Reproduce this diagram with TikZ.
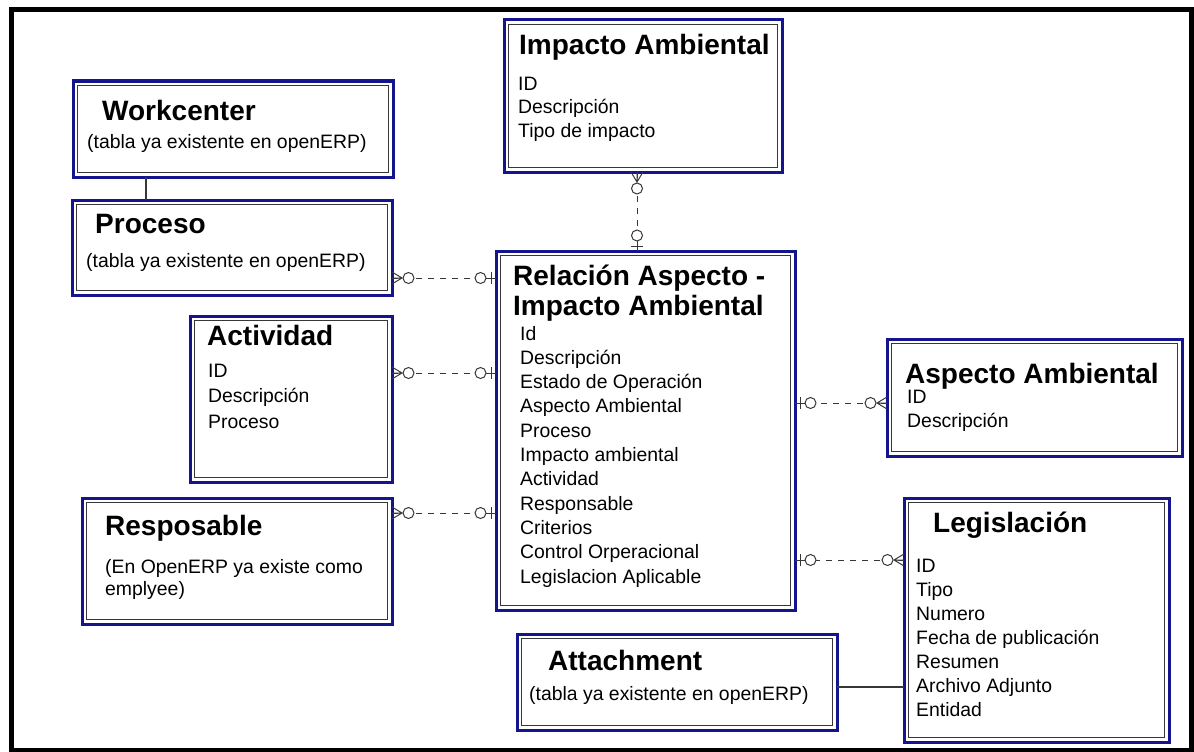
\documentclass[tikz,border=0pt]{standalone}
\usepackage{fontspec}
\setmainfont{Liberation Sans}
\definecolor{erblue}{RGB}{20, 20, 140}
\definecolor{ergray}{RGB}{55, 55, 55}
\usetikzlibrary{calc}
\tikzset{
	entity/.style={rectangle, draw=erblue, line width=3pt, fill=white, inner sep=0pt, outer sep=0pt, anchor=north west,
		path picture={\draw[ergray, line width=1.5pt] ([shift={(4.5pt,-4.5pt)}]path picture bounding box.north west) rectangle ([shift={(-4.5pt,4.5pt)}]path picture bounding box.south east);}},
	title/.style={anchor=base west, inner sep=0pt, align=left, font=\fontsize{28}{30}\selectfont\bfseries},
	attr/.style={anchor=base west, inner sep=0pt, align=left, font=\fontsize{19.4}{#1}\selectfont},
	attr/.default=24,
	frame/.style={draw=black, line width=4.5pt},
	link/.style={draw=ergray, line width=1pt, dash pattern=on 6pt off 6pt},
	plain/.style={draw=ergray, line width=1.2pt},
	many/.pic={\draw[ergray, line width=1pt, solid] (0,-6) -- (10,0) -- (0,6) (0,0) -- (10,0);
		\draw[ergray, line width=1pt, solid, fill=white] (16.5,0) circle (5.5pt);},
	one/.pic={\draw[ergray, line width=1pt, solid] (-11,0) -- (0,0) (-5,-6) -- (-5,6);
		\draw[ergray, line width=1pt, solid, fill=white] (-15.5,0) circle (5.5pt);},
}
\begin{document}
\begin{tikzpicture}[x=1pt, y=-1pt]
	\useasboundingbox (0,0) rectangle (1194,752);
	\draw[frame] (11.5,9.5) rectangle (1191.5,750);
	\node[entity, minimum width=320pt, minimum height=96pt] (wc) at (73,81) {};
	\node[entity, minimum width=320pt, minimum height=95pt] (proc) at (72,200) {};
	\node[entity, minimum width=278pt, minimum height=152pt] (impacto) at (504,20) {};
	\node[entity, minimum width=299pt, minimum height=359pt] (relacion) at (496,251) {};
	\node[entity, minimum width=202pt, minimum height=166pt] (activ) at (190,316) {};
	\node[entity, minimum width=310pt, minimum height=126pt] (resp) at (82,498) {};
	\node[entity, minimum width=295pt, minimum height=117pt] (aspecto) at (887,339) {};
	\node[entity, minimum width=265pt, minimum height=244pt] (legis) at (904,498) {};
	\node[entity, minimum width=320pt, minimum height=96pt] (attach) at (517,634) {};
	% multi-line texts sit on the baseline of their last line
	\node[title] (wc-t) at (102,120) {Workcenter};
	\node[attr] (wc-a) at (87,148) {(tabla ya existente en openERP)};
	\node[title] (proc-t) at (95,233) {Proceso};
	\node[attr] (proc-a) at (86,267) {(tabla ya existente en openERP)};
	\node[title] (imp-t) at (519,55) {Impacto Ambiental};
	\node[attr=23.5] (imp-a) at (518,137) {ID\\Descripción\\Tipo de impacto};
	\node[title] (rel-t) at (513,315) {Relación Aspecto -\\Impacto Ambiental};
	\node[attr=24.3] (rel-a) at (520,583) {Id\\Descripción\\Estado de Operación\\Aspecto Ambiental\\Proceso\\Impacto ambiental\\Actividad\\Responsable\\Criterios\\Control Orperacional\\Legislacion Aplicable};
	\node[title] (act-t) at (207,345) {Actividad};
	\node[attr=25.5] (act-a) at (208,428) {ID\\Descripción\\Proceso};
	\node[title] (resp-t) at (105,535) {Resposable};
	\node[attr=22] (resp-a) at (105,595) {(En OpenERP ya existe como\\emplyee)};
	\node[title] (asp-t) at (905,383) {Aspecto Ambiental};
	\node[attr=24] (asp-a) at (907,427) {ID\\Descripción};
	\node[title] (leg-t) at (933,532) {Legislación};
	\node[attr=24] (leg-a) at (916,716) {ID\\Tipo\\Numero\\Fecha de publicación\\Resumen\\Archivo Adjunto\\Entidad};
	\node[title] (att-t) at (548,670) {Attachment};
	\node[attr] (att-a) at (529,700) {(tabla ya existente en openERP)};
	\draw[plain] ([xshift=-87pt]wc.south) coordinate (pw) -- (pw |- proc.north);
	\draw[plain] ([yshift=-5pt]attach.east) coordinate (pt) -- (pt -| legis.west);
	\draw[link] ([yshift=-30.5pt]proc.east) coordinate (pp) -- (pp -| relacion.west) pic[pos=0, sloped, allow upside down]{many} pic[pos=1, sloped, allow upside down]{one};
	\draw[link] ([yshift=26pt]activ.east) coordinate (pa) -- (pa -| relacion.west) pic[pos=0, sloped, allow upside down]{many} pic[pos=1, sloped, allow upside down]{one};
	\draw[link] ([yshift=48pt]resp.east) coordinate (pr) -- (pr -| relacion.west) pic[pos=0, sloped, allow upside down]{many} pic[pos=1, sloped, allow upside down]{one};
	\draw[link] ([xshift=-6pt]impacto.south) coordinate (pi) -- (pi |- relacion.north) pic[pos=0, sloped, allow upside down]{many} pic[pos=1, sloped, allow upside down]{one};
	\draw[link] ([yshift=-5.5pt]aspecto.west) coordinate (ps) -- (ps -| relacion.east) pic[pos=0, sloped, allow upside down]{many} pic[pos=1, sloped, allow upside down]{one};
	\draw[link] ([yshift=60pt]legis.west) coordinate (pl) -- (pl -| relacion.east) pic[pos=0, sloped, allow upside down]{many} pic[pos=1, sloped, allow upside down]{one};
\end{tikzpicture}
\end{document}
